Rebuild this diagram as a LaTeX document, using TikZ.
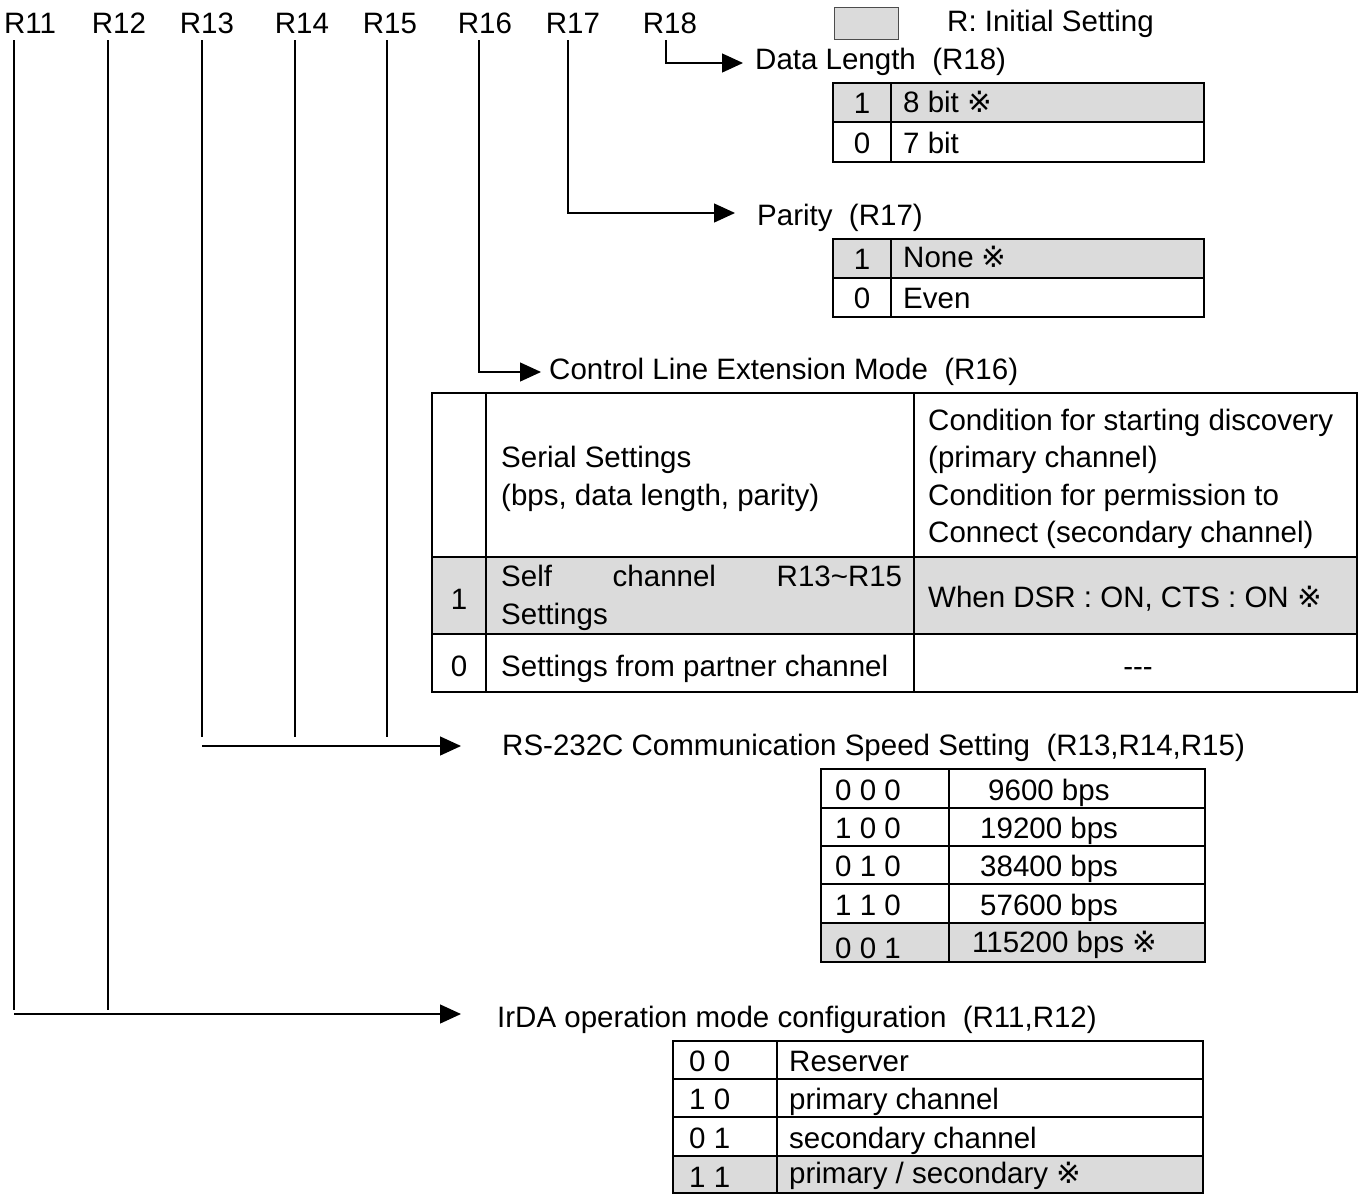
\documentclass[tikz,border=0pt]{standalone}
\usepackage{fontspec}
\setmainfont{Liberation Sans}
\newfontfamily\refmarkfont{DejaVu Sans}
\usetikzlibrary{arrows.meta}
\newcommand{\initmark}{{\refmarkfont ※}}
\tikzset{
  wire/.style={line width=1.3pt},
  arr/.style={wire, -{Triangle[length=21pt,width=19pt]}},
  rule/.style={line width=2.4pt},
  initrow/.style={fill=gray!28},
  txt/.style={inner sep=0pt, anchor=base west},
  ctxt/.style={inner sep=0pt, anchor=base},
  head/.style={inner sep=0pt, anchor=west},
}
\begin{document}
\begin{tikzpicture}[x=1pt, y=-1pt, font=\fontsize{29.5}{37.3}\selectfont]
  \useasboundingbox (0,0) rectangle (1361,1194);
  % register labels and their wires
  \foreach \n/\lx/\wx in {11/30/14, 12/119/108, 13/207/202, 14/302/295,
                          15/390/387, 16/485/479, 17/573/568, 18/670/666} {
    \node[ctxt] (r\n) at (\lx,33) {R\n};
    \coordinate (t\n) at (\wx,40);
  }
  % legend
  \filldraw[initrow, draw=black!70, line width=1pt] (834,7) rectangle (898,39);
  \node[head] (legend) at (947,24) {R: Initial Setting};
  % R18 : data length
  \node[head] (hdl) at (755,62) {Data Length\ \ (R18)};
  \coordinate (e18) at (743,63);
  \draw[arr] (t18) |- (e18);
  \fill[initrow] (833,83) rectangle (1204,122);
  \draw[rule] (833,83) rectangle (1204,162) (833,122) -- (1204,122) (891,83) -- (891,162);
  \node[ctxt] (dl1) at (862,113) {1};
  \node[txt] (dl1v) at (903,112) {8 bit \initmark};
  \node[ctxt] (dl0) at (862,153) {0};
  \node[txt] (dl0v) at (903,153) {7 bit};
  % R17 : parity
  \node[head] (hpar) at (757,218) {Parity\ \ (R17)};
  \coordinate (e17) at (735,213);
  \draw[arr] (t17) |- (e17);
  \fill[initrow] (833,239) rectangle (1204,278);
  \draw[rule] (833,239) rectangle (1204,317) (833,278) -- (1204,278) (891,239) -- (891,317);
  \node[ctxt] (par1) at (862,269) {1};
  \node[txt] (par1v) at (903,267) {None \initmark};
  \node[ctxt] (par0) at (862,308) {0};
  \node[txt] (par0v) at (903,308) {Even};
  % R16 : control line extension mode
  \node[head] (hctl) at (549,372) {Control Line Extension Mode\ \ (R16)};
  \coordinate (e16) at (541,372);
  \draw[arr] (t16) |- (e16);
  \fill[initrow] (432,557) rectangle (1357,634);
  \draw[rule] (432,393) rectangle (1357,692) (432,557) -- (1357,557) (432,634) -- (1357,634)
    (486,393) -- (486,692) (914,393) -- (914,692);
  \node[head, align=left] (ctlhl) at (501,479) {Serial Settings\\(bps, data length, parity)};
  \node[head, align=left] (ctlhr) at (928,479) {Condition for starting discovery\\(primary channel)\\
    Condition for permission to\\Connect (secondary channel)};
  \node[ctxt] (ctl1) at (459,609) {1};
  \node[head, align=left] (ctl1l) at (501,598)
    {\makebox[401pt][s]{Self\hfill channel\hfill R13\textasciitilde R15}\\Settings};
  \node[txt] (ctl1r) at (928,607) {When DSR : ON, CTS : ON \initmark};
  \node[ctxt] (ctl0) at (459,676) {0};
  \node[txt] (ctl0l) at (501,676) {Settings from partner channel};
  \node[ctxt] (ctl0r) at (1138,676) {-{}-{}-};
  % R13-R15 : communication speed
  \node[head] (hspd) at (502,748) {RS-232C Communication Speed Setting\ \ (R13,R14,R15)};
  \foreach \n in {13,14,15} \draw[wire] (t\n) -- ++(0,697);
  \coordinate (s13) at (202,746);
  \coordinate (e13) at (461,746);
  \draw[arr] (s13) -- (e13);
  \fill[initrow] (821,923) rectangle (1205,962);
  \draw[rule] (821,769) rectangle (1205,962) (949,769) -- (949,962);
  \foreach \y in {808,846,884,923} \draw[rule] (821,\y) -- (1205,\y);
  \node[txt] (spd1) at (835,800) {0 0 0};
  \node[txt] (spd1v) at (988,800) {9600 bps};
  \node[txt] (spd2) at (835,838) {1 0 0};
  \node[txt] (spd2v) at (980,838) {19200 bps};
  \node[txt] (spd3) at (835,876) {0 1 0};
  \node[txt] (spd3v) at (980,876) {38400 bps};
  \node[txt] (spd4) at (835,915) {1 1 0};
  \node[txt] (spd4v) at (980,915) {57600 bps};
  \node[txt] (spd5) at (835,958) {0 0 1};
  \node[txt] (spd5v) at (972,952) {115200 bps \initmark};
  % R11-R12 : IrDA operation mode
  \node[head] (hirda) at (497,1020) {IrDA operation mode configuration\ \ (R11,R12)};
  \foreach \n in {11,12} \draw[wire] (t\n) -- ++(0,970);
  \coordinate (s11) at (14,1014);
  \coordinate (e11) at (461,1014);
  \draw[arr] (s11) -- (e11);
  \fill[initrow] (673,1156) rectangle (1203,1193);
  \draw[rule] (673,1041) rectangle (1203,1193) (777,1041) -- (777,1193);
  \foreach \y in {1079,1117,1156} \draw[rule] (673,\y) -- (1203,\y);
  \node[txt] (ir1) at (689,1071) {0 0};
  \node[txt] (ir1v) at (789,1071) {Reserver};
  \node[txt] (ir2) at (689,1109) {1 0};
  \node[txt] (ir2v) at (789,1109) {primary channel};
  \node[txt] (ir3) at (689,1148) {0 1};
  \node[txt] (ir3v) at (789,1148) {secondary channel};
  \node[txt] (ir4) at (689,1187) {1 1};
  \node[txt] (ir4v) at (789,1183) {primary / secondary \initmark};
\end{tikzpicture}
\end{document}
